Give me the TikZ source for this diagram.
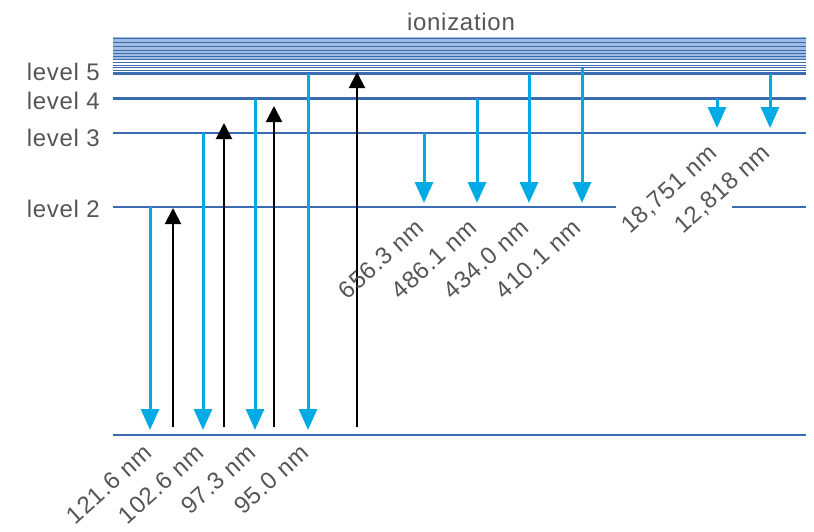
\documentclass[tikz,border=0pt]{standalone}
\usepackage{fontspec}
\setmainfont{Liberation Sans}[LetterSpace=3]
\usetikzlibrary{arrows.meta}
\definecolor{lvl}{RGB}{58,108,178}
\definecolor{band}{RGB}{160,188,225}
\definecolor{cyanarr}{RGB}{0,170,228}
\definecolor{txt}{RGB}{85,85,85}
\tikzset{
  level/.style={draw=lvl, line width=2.8pt},
  bandline/.style={draw=lvl, line width=1pt},
  emit/.style={draw=cyanarr, line width=3pt, -{Triangle[width=18pt,length=21pt]}},
  absorb/.style={draw=black, line width=2pt, -{Triangle[width=16pt,length=16pt]}},
  lab/.style={text=txt, font=\fontsize{24}{28}\selectfont, inner sep=0pt},
  wl/.style={lab, rotate=42, anchor=east},
}
\begin{document}
\begin{tikzpicture}[x=1pt,y=-1pt]
\useasboundingbox (0,0) rectangle (814,531);
% ionization band
\fill[band] (113,37) rectangle (806,59);
\foreach \yy in {38,42,46,50,53,56,59,62,65,67.5,70}
  \draw[bandline] (113,\yy) -- (806,\yy);
% levels
\coordinate (L5a) at (113,73.5); \coordinate (L5b) at (806,73.5);
\coordinate (L4a) at (113,98.5); \coordinate (L4b) at (806,98.5);
\coordinate (L3a) at (113,133); \coordinate (L3b) at (806,133);
\coordinate (L2a) at (113,207); \coordinate (L2b) at (616,207);
\coordinate (L2c) at (732,207); \coordinate (L2d) at (806,207);
\coordinate (L1a) at (113,435); \coordinate (L1b) at (806,435);
\draw[level] (L5a) -- (L5b);
\draw[level] (L4a) -- (L4b);
\draw[level] (L3a) -- (L3b);
\draw[level] (L2a) -- (L2b);
\draw[level] (L2c) -- (L2d);
\draw[level] (L1a) -- (L1b);
% labels
\node[lab, anchor=base east] (t5) at (100,80) {level 5};
\node[lab, anchor=base east] (t4) at (100,109) {level 4};
\node[lab, anchor=base east] (t3) at (100,146) {level 3};
\node[lab, anchor=base east] (t2) at (100,217) {level 2};
\node[lab, anchor=base] (ion) at (461,30) {ionization};
% Lyman emission
\coordinate (a1s) at (150,207); \coordinate (a1e) at (150,430);
\coordinate (a2s) at (203,133); \coordinate (a2e) at (203,430);
\coordinate (a3s) at (255,98.5); \coordinate (a3e) at (255,430);
\coordinate (a4s) at (308,73.5); \coordinate (a4e) at (308,430);
\draw[emit] (a1s) -- (a1e);
\draw[emit] (a2s) -- (a2e);
\draw[emit] (a3s) -- (a3e);
\draw[emit] (a4s) -- (a4e);
% absorption
\coordinate (b1s) at (173,427); \coordinate (b1e) at (173,208);
\coordinate (b2s) at (224,427); \coordinate (b2e) at (224,123);
\coordinate (b3s) at (274,427); \coordinate (b3e) at (274,106);
\coordinate (b4s) at (357,427); \coordinate (b4e) at (357,72);
\draw[absorb] (b1s) -- (b1e);
\draw[absorb] (b2s) -- (b2e);
\draw[absorb] (b3s) -- (b3e);
\draw[absorb] (b4s) -- (b4e);
% Balmer
\coordinate (c1s) at (424,133); \coordinate (c1e) at (424,203);
\coordinate (c2s) at (477,98.5); \coordinate (c2e) at (477,203);
\coordinate (c3s) at (529,73.5); \coordinate (c3e) at (529,203);
\coordinate (c4s) at (582,68); \coordinate (c4e) at (582,203);
\draw[emit] (c1s) -- (c1e);
\draw[emit] (c2s) -- (c2e);
\draw[emit] (c3s) -- (c3e);
\draw[emit] (c4s) -- (c4e);
% Paschen
\coordinate (d1s) at (717,98.5); \coordinate (d1e) at (717,128);
\coordinate (d2s) at (770,73.5); \coordinate (d2e) at (770,128);
\draw[emit] (d1s) -- (d1e);
\draw[emit] (d2s) -- (d2e);
% wavelength labels
\node[wl] (w1) at (148,449) {121.6 nm};
\node[wl] (w2) at (200,449) {102.6 nm};
\node[wl] (w3) at (252,449) {97.3 nm};
\node[wl] (w4) at (305,449) {95.0 nm};
\node[wl] (w5) at (420,224) {656.3 nm};
\node[wl] (w6) at (473,224) {486.1 nm};
\node[wl] (w7) at (525,224) {434.0 nm};
\node[wl] (w8) at (577,224) {410.1 nm};
\node[wl] (w9) at (714,150) {18,751 nm};
\node[wl] (w10) at (767,150) {12,818 nm};
\end{tikzpicture}
\end{document}
